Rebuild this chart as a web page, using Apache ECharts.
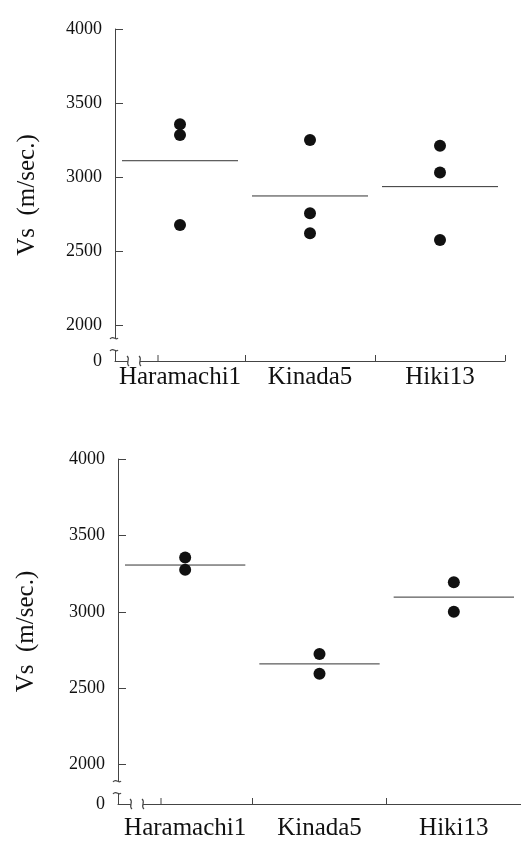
<!DOCTYPE html>
<html>
<head>
<meta charset="utf-8">
<script src="https://cdn.jsdelivr.net/npm/echarts@6/dist/echarts.min.js"></script>
<style>
  body { margin: 0; background: #fff; }
  #main { width: 521px; height: 841px; }
</style>
</head>
<body>
<div id="main"></div>
<script>
var sites = ['Haramachi1', 'Kinada5', 'Hiki13'];
var yTicks = [2000, 2500, 3000, 3500, 4000];

// upper panel, three samples per site
var topHaramachi = [3356, 3284, 2676];
var topKinada = [3250, 2755, 2620];
var topHiki = [3211, 3030, 2574];
var topMeans = [3110, 2872, 2935];

// lower panel, two samples per site
var botHaramachi = [3356, 3275];
var botKinada = [2724, 2594];
var botHiki = [3194, 3000];
var botMeans = [3306, 2659, 3096];

function points(lists) {
    var out = [];
    lists.forEach(function (vals, i) {
        vals.forEach(function (v) { out.push([i, v]); });
    });
    return out;
}

var font = 'Liberation Serif';
var ink = '#111';
var axisCol = '#444';

function xAxisFor(grid, margin) {
    return {
        type: 'category', gridIndex: grid, data: sites, boundaryGap: true,
        axisLine: { show: true, lineStyle: { color: axisCol, width: 1 } },
        axisTick: { show: true, inside: true, length: 6, lineStyle: { color: axisCol } },
        axisLabel: { interval: 0, fontFamily: font, fontSize: 25, color: ink, margin: margin }
    };
}

function yAxisFor(grid, floor, gap) {
    return {
        type: 'value', gridIndex: grid, min: floor, max: 4000,
        name: 'Vs  (m/sec.)', nameLocation: 'middle', nameGap: gap,
        nameTextStyle: { fontFamily: font, fontSize: 25, color: ink },
        axisLine: { show: true, lineStyle: { color: axisCol, width: 1 } },
        axisTick: { show: true, inside: true, length: 8, customValues: yTicks, lineStyle: { color: axisCol } },
        axisLabel: {
            fontFamily: font, fontSize: 18, color: ink, margin: 13,
            customValues: [floor].concat(yTicks),
            formatter: function (v) { return v < 2000 ? '0' : String(v); }
        },
        splitLine: { show: false }
    };
}

function meanLine(params, api) {
    var p = api.coord([api.value(0), api.value(1)]);
    var bw = api.size([1, 0])[0];
    return {
        type: 'line',
        shape: { x1: p[0] - bw / 2 + 7, y1: p[1], x2: p[0] + bw / 2 - 7, y2: p[1] },
        style: { stroke: '#333', lineWidth: 1 }
    };
}

var option = {
    animation: false,
    backgroundColor: '#fff',
    grid: [
        { left: 115, top: 29, width: 390, height: 332 },
        { left: 118, top: 459, width: 408, height: 348 }
    ],
    xAxis: [xAxisFor(0, 4), xAxisFor(1, 12)],
    yAxis: [yAxisFor(0, 1757, 75), yAxisFor(1, 1742, 79)],
    series: [
        {
            type: 'scatter', xAxisIndex: 0, yAxisIndex: 0, symbolSize: 12,
            itemStyle: { color: '#111', opacity: 1 },
            data: points([topHaramachi, topKinada, topHiki])
        },
        {
            type: 'custom', xAxisIndex: 0, yAxisIndex: 0, renderItem: meanLine,
            data: topMeans.map(function (v, i) { return [i, v]; })
        },
        {
            type: 'scatter', xAxisIndex: 1, yAxisIndex: 1, symbolSize: 12,
            itemStyle: { color: '#111', opacity: 1 },
            data: points([botHaramachi, botKinada, botHiki])
        },
        {
            type: 'custom', xAxisIndex: 1, yAxisIndex: 1, renderItem: meanLine,
            data: botMeans.map(function (v, i) { return [i, v]; })
        }
    ]
};

var chart = echarts.init(document.getElementById('main'), null, { renderer: 'canvas' });
chart.setOption(option);

// axis break marks and the extra tick after the break
var marks = [];
[0, 1].forEach(function (g) {
    var r = chart.getModel().getComponent('grid', g).coordinateSystem.getRect();
    var x0 = r.x, yb = r.y + r.height;
    var ls = { stroke: axisCol, lineWidth: 1.2, fill: null };
    marks.push({ type: 'rect', z: 100, shape: { x: x0 - 3, y: yb - 23, width: 6, height: 12 }, style: { fill: '#fff' } });
    marks.push({ type: 'rect', z: 100, shape: { x: x0 + 13, y: yb - 2, width: 12, height: 4 }, style: { fill: '#fff' } });
    [yb - 23, yb - 11].forEach(function (yy) {
        marks.push({ type: 'bezierCurve', z: 101, style: ls,
            shape: { x1: x0 - 5, y1: yy + 1, cpx1: x0 - 2, cpy1: yy - 3, cpx2: x0 + 1, cpy2: yy + 3, x2: x0 + 3, y2: yy } });
    });
    [x0 + 13, x0 + 25].forEach(function (xx) {
        marks.push({ type: 'bezierCurve', z: 101, style: ls,
            shape: { x1: xx - 1, y1: yb - 5, cpx1: xx + 3, cpy1: yb - 2, cpx2: xx - 3, cpy2: yb + 2, x2: xx + 1, y2: yb + 5 } });
    });
    marks.push({ type: 'line', z: 101, style: { stroke: axisCol, lineWidth: 1 },
        shape: { x1: x0 + 43, y1: yb, x2: x0 + 43, y2: yb - 6 } });
});
chart.setOption({ graphic: marks });
</script>
</body>
</html>
